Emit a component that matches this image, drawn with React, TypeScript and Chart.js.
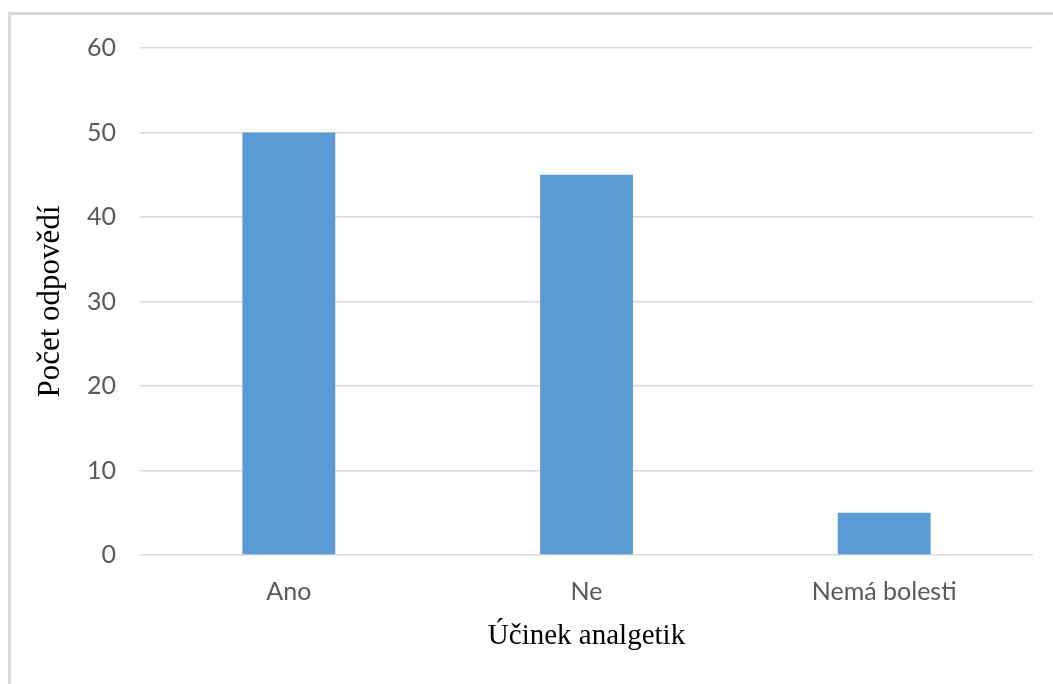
import React, { useEffect, useRef } from "react";
import { Chart, registerables } from "chart.js";

Chart.register(...registerables);

const categories: string[] = ["Ano", "Ne", "Nemá bolesti"];
const responses: number[] = [50, 45, 5];
const yTicks: number[] = [0, 10, 20, 30, 40, 50, 60];

const xTitle = "Účinek analgetik";
const yTitle = "Počet odpovědí";

const W = 1053;
const H = 684;

export default function App() {
  const canvasRef = useRef<HTMLCanvasElement | null>(null);

  useEffect(() => {
    const canvas = canvasRef.current;
    if (!canvas) return;
    const chart = new Chart(canvas, {
      type: "bar",
      data: {
        labels: categories,
        datasets: [
          {
            data: responses,
            backgroundColor: "#5b9bd5",
            borderWidth: 0,
            categoryPercentage: 1,
            barPercentage: 0.312,
          },
        ],
      },
      options: {
        responsive: false,
        animation: false,
        layout: { padding: { top: 48, right: 20, bottom: 0, left: 0 } },
        plugins: {
          legend: { display: false },
          tooltip: { enabled: false },
        },
        scales: {
          x: {
            grid: { display: false, drawTicks: false },
            border: { display: false },
            ticks: {
              color: "#595959",
              padding: 22,
              font: { family: "Lato", size: 25 },
            },
            title: {
              display: true,
              text: xTitle,
              color: "#000000",
              font: { family: "Liberation Serif", size: 29 },
              padding: { top: 0, bottom: 30 },
            },
            afterFit: (scale: any) => {
              scale.height = 129;
            },
          },
          y: {
            min: 0,
            max: 60,
            afterBuildTicks: (scale: any) => {
              scale.ticks = yTicks.map((v) => ({ value: v }));
            },
            grid: { color: "#d9d9d9", lineWidth: 1.5, drawTicks: false },
            border: { display: false },
            ticks: {
              color: "#595959",
              padding: 24,
              font: { family: "Lato", size: 25 },
            },
            title: {
              display: true,
              text: yTitle,
              color: "#000000",
              font: { family: "Liberation Serif", size: 31 },
              padding: { top: 32, bottom: 0 },
            },
            afterFit: (scale: any) => {
              scale.width = 140;
            },
          },
        },
      },
    });
    return () => chart.destroy();
  }, []);

  return (
    <div
      style={{
        position: "absolute",
        left: 0,
        top: 0,
        width: W,
        height: H,
        background: "#ffffff",
        overflow: "hidden",
      }}
    >
      <div
        style={{
          position: "absolute",
          left: 8,
          top: 12,
          right: -10,
          bottom: -10,
          borderTop: "3px solid #d9d9d9",
          borderLeft: "3px solid #d9d9d9",
        }}
      />
      <canvas
        ref={canvasRef}
        width={W}
        height={H}
        style={{ position: "absolute", left: 0, top: 0, display: "block" }}
      />
    </div>
  );
}
